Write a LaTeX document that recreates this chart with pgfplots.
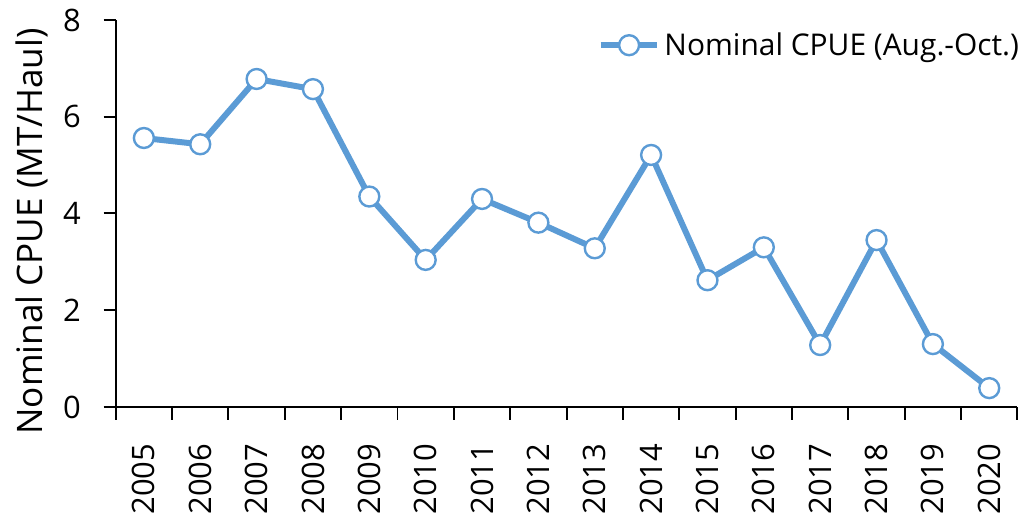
\documentclass[border=0pt]{standalone}
\usepackage{pgfplots}
\pgfplotsset{compat=1.18}
\usepackage{fontspec}
\setmainfont{Open Sans}
\definecolor{xlblue}{HTML}{5B9BD5}
\begin{document}
\begin{tikzpicture}
\begin{axis}[
  scale only axis, width=452pt, height=194pt,
  at={(0,0)}, anchor=south west,
  xmin=-0.5, xmax=15.5, ymin=0, ymax=8,
  axis lines=left, axis line style={-, line width=1pt, black},
  xtick={0,...,15},
  xticklabels={2005,2006,2007,2008,2009,2010,2011,2012,2013,2014,2015,2016,2017,2018,2019,2020},
  major x tick style={draw=none},
  minor xtick={-0.5,0.5,...,15.5},
  minor x tick style={line width=1pt, black},
  minor tick length=6.5pt,
  ytick={0,2,4,6,8},
  major tick length=6pt,
  tick align=outside,
  y tick style={line width=1pt, black},
  x tick label style={rotate=90, anchor=east, font=\fontsize{15.5}{18}\selectfont, xshift=-9pt},
  y tick label style={font=\fontsize{15.5}{18}\selectfont, xshift=-8pt},
  /pgf/number format/assume math mode=true,
  ylabel={Nominal CPUE (MT/Haul)},
  ylabel style={font=\fontsize{17.6}{20}\selectfont, xshift=-9pt, yshift=0.5pt},
  legend style={draw=none, fill=none, at={(1,1)}, anchor=north east, font=\fontsize{15}{18}\selectfont, yshift=-2pt, xshift=6pt},
  legend cell align=left,
  legend image code/.code={
    \draw[#1, mark repeat=2, mark phase=2] plot coordinates {(0cm,0cm) (0.5cm,0cm) (1.0cm,0cm)};
  },
  clip=false,
]
\addplot[color=xlblue, line width=3pt, mark=*, mark size=5pt,
  mark options={fill=white, draw=xlblue, line width=1.2pt}]
  coordinates {
  (0,5.56) (1,5.43) (2,6.78) (3,6.57) (4,4.35) (5,3.04) (6,4.30) (7,3.81)
  (8,3.28) (9,5.21) (10,2.62) (11,3.30) (12,1.28) (13,3.45) (14,1.30) (15,0.39)
  };
\addlegendentry{Nominal CPUE (Aug.-Oct.)}
\end{axis}
\path[use as bounding box] (-58pt,-55.5pt) rectangle (456.5pt,204pt);
\end{tikzpicture}
\end{document}
